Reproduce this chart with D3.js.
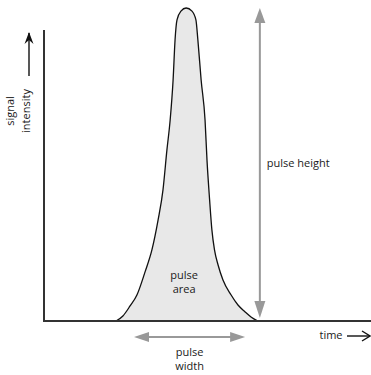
<!DOCTYPE html>
<html>
<head>
<meta charset="utf-8">
<script src="https://cdn.jsdelivr.net/npm/d3@7"></script>
<style>
  html, body { margin: 0; padding: 0; background: #fff; }
  text { font-family: "Open Sans", "Noto Sans", sans-serif; font-size: 11px; fill: #1a1a1a; }
</style>
</head>
<body>
<svg id="chart" width="371" height="375"></svg>
<script>
// ---- data (time in arbitrary units 0-100, intensity as % of peak) ----
const timeValues      = [22.1, 24.2, 26.4, 28.5, 31.0, 33.1, 35.0, 36.5, 37.7, 38.7, 39.6, 40.2, 40.8, 42.0, 43.6, 45.4, 46.6, 47.2, 48.2, 49.4, 50.0, 50.8, 51.5, 52.3, 53.4, 54.9, 57.4, 59.5, 61.7, 63.5, 65.6];
const intensityValues = [0,    1.6,  4.8,  8.3,  15.7, 22.7, 32.3, 41.9, 54.6, 64.2, 77.0, 89.8, 96.2, 99.0, 100,  99.0, 96.2, 89.8, 77.0, 64.2, 51.4, 38.7, 29.1, 22.7, 17.9, 13.1, 8.3,  5.1,  2.9,  1.3,  0];
const pulseEnd = 65.6;                          // pulse foot (right)
const widthStart = 27.6, widthEnd = 61.7;       // pulse width marker
const peakValue  = 100;
const labels = {
  yAxis: ["signal", "intensity"],
  xAxis: "time",
  height: "pulse height",
  area: ["pulse", "area"],
  width: ["pulse", "width"]
};

const svg = d3.select("#chart");
const x = d3.scaleLinear().domain([0, 100]).range([44, 370]);
const y = d3.scaleLinear().domain([0, 100]).range([321, 8]);

const pts = timeValues.map((t, i) => [t, intensityValues[i]]);

// pulse area
svg.append("path")
  .datum(pts)
  .attr("d", d3.area().x(d => x(d[0])).y0(y(0)).y1(d => y(d[1])).curve(d3.curveMonotoneX))
  .attr("fill", "#e8e8e8");
svg.append("path")
  .datum(pts)
  .attr("d", d3.line().x(d => x(d[0])).y(d => y(d[1])).curve(d3.curveMonotoneX))
  .attr("fill", "none").attr("stroke", "#111").attr("stroke-width", 1.3);

// axes
svg.append("line").attr("x1", x(0)).attr("x2", x(0)).attr("y1", 30).attr("y2", y(0))
  .attr("stroke", "#333").attr("stroke-width", 2);
svg.append("line").attr("x1", x(0) - 1).attr("x2", 371).attr("y1", y(0)).attr("y2", y(0))
  .attr("stroke", "#333").attr("stroke-width", 2);

// gray double arrows
const gray = "#999";
function tri(cx, cy, dir, len, half) {
  if (dir === "up")    return `M${cx},${cy}L${cx - half},${cy + len}L${cx + half},${cy + len}Z`;
  if (dir === "down")  return `M${cx},${cy}L${cx - half},${cy - len}L${cx + half},${cy - len}Z`;
  if (dir === "left")  return `M${cx},${cy}L${cx + len},${cy - half}L${cx + len},${cy + half}Z`;
  return `M${cx},${cy}L${cx - len},${cy - half}L${cx - len},${cy + half}Z`;
}
const hx = x(pulseEnd) + 2;
svg.append("line").attr("x1", hx).attr("x2", hx).attr("y1", y(peakValue) + 8).attr("y2", y(0) - 10)
  .attr("stroke", gray).attr("stroke-width", 2);
svg.append("path").attr("d", tri(hx, y(peakValue), "up", 15, 5.5)).attr("fill", gray);
svg.append("path").attr("d", tri(hx, y(0) - 3, "down", 17, 5.5)).attr("fill", gray);

const wy = 337;
svg.append("line").attr("x1", x(widthStart) + 8).attr("x2", x(widthEnd) - 8).attr("y1", wy).attr("y2", wy)
  .attr("stroke", gray).attr("stroke-width", 2);
svg.append("path").attr("d", tri(x(widthStart), wy, "left", 15, 5)).attr("fill", gray);
svg.append("path").attr("d", tri(x(widthEnd), wy, "right", 15, 5)).attr("fill", gray);

// black direction arrows
svg.append("line").attr("x1", 29).attr("x2", 29).attr("y1", 76).attr("y2", 33)
  .attr("stroke", "#111").attr("stroke-width", 1.4);
svg.append("path").attr("d", "M24.5,44L29,32L33.5,44L29,40Z").attr("fill", "#111");
svg.append("line").attr("x1", 347).attr("x2", 369).attr("y1", 336).attr("y2", 336)
  .attr("stroke", "#111").attr("stroke-width", 1.4);
svg.append("path").attr("d", "M362,331L370,336L362,341").attr("fill", "none").attr("stroke", "#111").attr("stroke-width", 1.4);

// texts
svg.append("text").attr("x", hx + 7).attr("y", 167).text(labels.height);
const areaX = x(43);
svg.append("text").attr("x", areaX).attr("y", 279).attr("text-anchor", "middle").text(labels.area[0]);
svg.append("text").attr("x", areaX).attr("y", 293).attr("text-anchor", "middle").text(labels.area[1]);
svg.append("text").attr("x", (x(widthStart) + x(widthEnd)) / 2).attr("y", 356).attr("text-anchor", "middle").text(labels.width[0]);
svg.append("text").attr("x", (x(widthStart) + x(widthEnd)) / 2).attr("y", 370).attr("text-anchor", "middle").text(labels.width[1]);
svg.append("text").attr("x", 331).attr("y", 339).attr("text-anchor", "middle").text(labels.xAxis);

const yl = svg.append("g").attr("transform", "translate(0,111) rotate(-90)");
yl.append("text").attr("x", 0).attr("y", 14).attr("text-anchor", "middle").text(labels.yAxis[0]);
yl.append("text").attr("x", 0).attr("y", 30).attr("text-anchor", "middle").text(labels.yAxis[1]);
</script>
</body>
</html>
